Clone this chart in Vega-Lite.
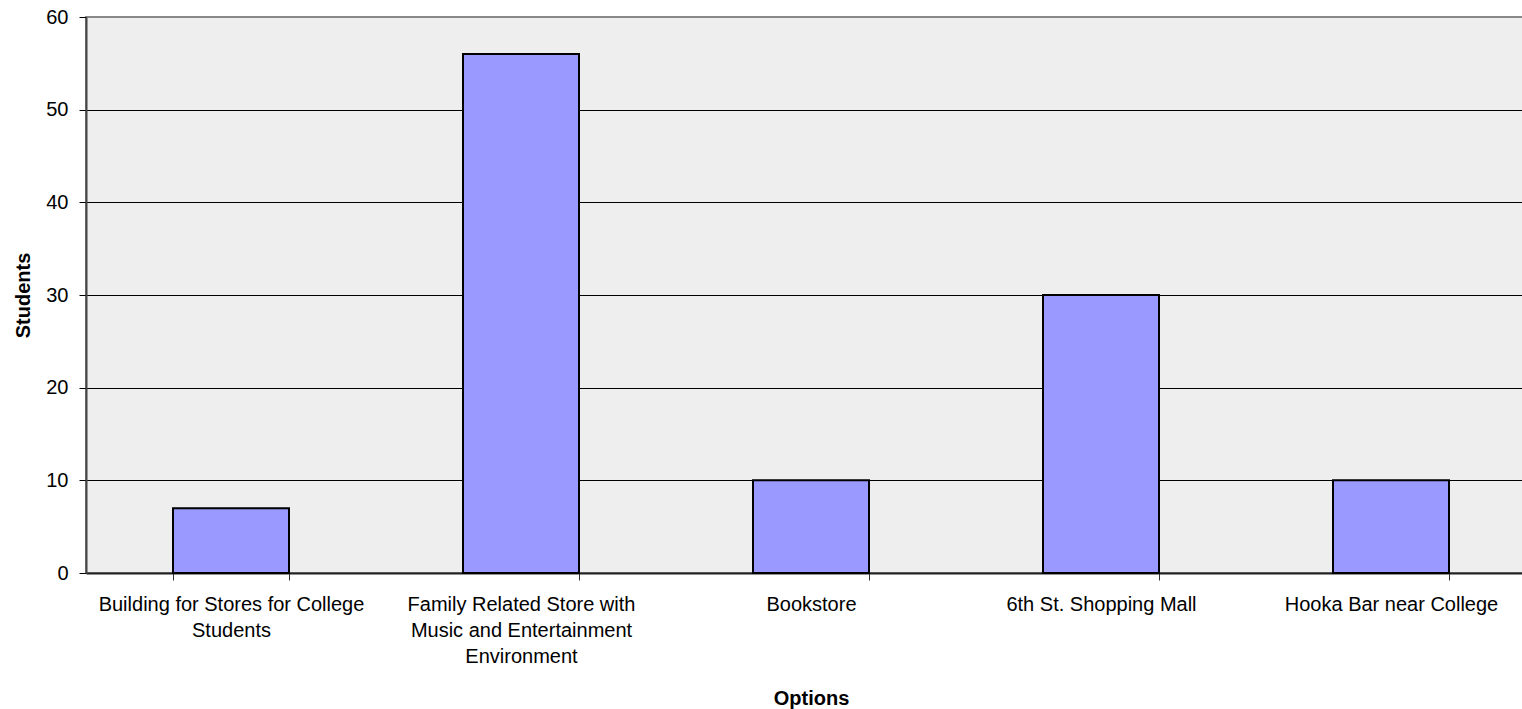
{
  "$schema": "https://vega.github.io/schema/vega-lite/v6.json",
  "autosize": {"type": "none"},
  "padding": {"left": 86, "top": 17, "right": 0, "bottom": 136},
  "width": 1450,
  "height": 556,
  "background": "white",
  "config": {
    "font": "Liberation Sans",
    "view": {"fill": "#EEEEEE", "stroke": "#888888", "strokeWidth": 2},
    "axis": {"labelFont": "Liberation Sans", "titleFont": "Liberation Sans", "labelColor": "black", "titleColor": "black"}
  },
  "data": {
    "values": [
      {"option": "Building for Stores for College|Students", "students": 7},
      {"option": "Family Related Store with|Music and Entertainment|Environment", "students": 56},
      {"option": "Bookstore", "students": 10},
      {"option": "6th St. Shopping Mall", "students": 30},
      {"option": "Hooka Bar near College", "students": 10}
    ]
  },
  "mark": {"type": "bar", "fill": "#9999FF", "stroke": "black", "strokeWidth": 2},
  "encoding": {
    "x": {
      "field": "option",
      "type": "nominal",
      "sort": null,
      "scale": {"paddingInner": 0.6, "paddingOuter": 0.3},
      "axis": {
        "title": "Options",
        "titleFontSize": 20,
        "titleFontWeight": "bold",
        "titlePadding": 22,
        "labelAngle": 0,
        "labelFontSize": 20,
        "labelLineHeight": 26,
        "labelPadding": 14,
        "labelLimit": 500,
        "labelExpr": "split(datum.label, '|')",
        "tickBand": "extent",
        "tickSize": 7,
        "tickColor": "#333333",
        "domainColor": "#222222",
        "domainWidth": 2,
        "grid": false
      }
    },
    "y": {
      "field": "students",
      "type": "quantitative",
      "scale": {"domain": [0, 60], "nice": false},
      "axis": {
        "title": "Students",
        "titleFontSize": 20,
        "titleFontWeight": "bold",
        "titlePadding": 12,
        "values": [0, 10, 20, 30, 40, 50, 60],
        "labelFontSize": 20,
        "labelPadding": 11,
        "tickSize": 7,
        "tickColor": "black",
        "domainColor": "#444444",
        "domainWidth": 2,
        "grid": true,
        "gridColor": {"condition": {"test": "datum.value == 60", "value": "transparent"}, "value": "black"},
        "gridWidth": 1
      }
    }
  }
}
